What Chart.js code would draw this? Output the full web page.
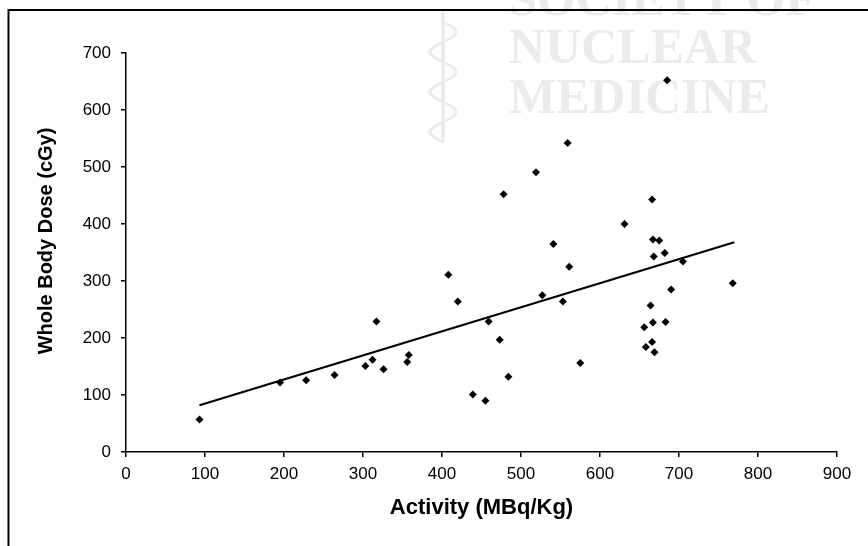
<!DOCTYPE html>
<html>
<head>
<meta charset="utf-8">
<script src="https://cdn.jsdelivr.net/npm/chart.js@4/dist/chart.umd.min.js"></script>
<style>
  html, body { margin: 0; padding: 0; background: #fff; }
  #wrap { width: 868px; height: 546px; position: relative; }
</style>
</head>
<body>
<div id="wrap"><canvas id="dose"></canvas></div>
<script>
// activity (MBq/Kg) vs whole body dose (cGy)
const activity = [
	93, 195, 228, 264, 303, 312, 317, 326, 356, 358,
	408, 420, 439, 455, 459, 473, 478, 484, 519, 527,
	541, 553, 559, 561, 575, 631, 656, 658, 664, 666,
	666, 667, 668, 667, 669, 675, 682, 683, 685, 690,
	705, 768
]
const dose = [
	57, 122, 126, 135, 151, 162, 229, 145, 158, 170,
	311, 264, 101, 90, 229, 197, 452, 132, 491, 275,
	365, 264, 542, 325, 156, 400, 219, 184, 257, 443,
	193, 227, 343, 373, 175, 371, 349, 228, 652, 285,
	334, 296
]
// regression line end points
const fitX = [93, 770]
const fitY = [82, 368]

const xTicks = [0, 100, 200, 300, 400, 500, 600, 700, 800, 900]
const yTicks = [0, 100, 200, 300, 400, 500, 600, 700]

const xTitle = "Activity (MBq/Kg)"
const yTitle = "Whole Body Dose (cGy)"
const watermark = ["SOCIETY OF", "NUCLEAR", "MEDICINE"]

const sans = "'Liberation Sans', Arial, sans-serif"

const points = activity.map((a, i) => ({ x: a, y: dose[i] }))
const fitLine = fitX.map((a, i) => ({ x: a, y: fitY[i] }))

// faint journal watermark behind the plot
const watermarkPlugin = {
	id: "watermark",
	beforeDraw(chart) {
		const ctx = chart.ctx
		ctx.save()
		ctx.fillStyle = "#ebebeb"
		ctx.strokeStyle = "#ebebeb"
		ctx.font = "bold 50px 'Liberation Serif', 'Times New Roman', serif"
		ctx.textBaseline = "alphabetic"
		ctx.fillText(watermark[0], 509, 15)
		ctx.fillText(watermark[1], 509, 63)
		ctx.fillText(watermark[2], 509, 113)
		// rod + snake
		ctx.lineWidth = 4
		ctx.beginPath()
		ctx.moveTo(443, 12)
		ctx.lineTo(443, 142)
		ctx.stroke()
		ctx.lineWidth = 3
		ctx.beginPath()
		for (let t = 0; t <= 120; t += 2) {
			const px = 443 + 13 * Math.sin(t / 40 * Math.PI * 2)
			const py = 22 + t
			if (t == 0) ctx.moveTo(px, py)
			else ctx.lineTo(px, py)
		}
		ctx.stroke()
		ctx.restore()
	},
	afterDraw(chart) {
		const ctx = chart.ctx
		const area = chart.chartArea
		ctx.save()
		// frame of the figure
		ctx.strokeStyle = "#000"
		ctx.lineWidth = 2
		ctx.beginPath()
		ctx.moveTo(8.5, 546)
		ctx.lineTo(8.5, 10)
		ctx.lineTo(868, 10)
		ctx.stroke()
		// axis titles
		ctx.fillStyle = "#000"
		ctx.textAlign = "center"
		ctx.textBaseline = "middle"
		ctx.font = "bold 22px " + sans
		ctx.fillText(xTitle, (area.left + area.right) / 2, 508)
		ctx.font = "bold 20px " + sans
		ctx.translate(46, 241)
		ctx.rotate(-Math.PI / 2)
		ctx.fillText(yTitle, 0, 0)
		ctx.restore()
	}
}

new Chart("dose", {
	type: "scatter",
	data: {
		datasets: [
			{
				data: points,
				pointStyle: "rectRot",
				pointRadius: 4,
				pointBackgroundColor: "#000",
				pointBorderColor: "#000",
				pointBorderWidth: 0,
				showLine: false,
			},
			{
				type: "line",
				data: fitLine,
				borderColor: "#000",
				borderWidth: 2.2,
				pointRadius: 0,
				fill: false,
			},
		],
	},
	options: {
		responsive: true,
		maintainAspectRatio: false,
		animation: false,
		layout: { padding: { left: 0, right: 31, top: 53, bottom: 0 } },
		plugins: {
			legend: { display: false },
			tooltip: { enabled: false },
		},
		scales: {
			x: {
				type: "linear",
				min: 0,
				max: 900,
				afterFit: (scale) => { scale.height = 94 },
				afterBuildTicks: (scale) => { scale.ticks = xTicks.map(v => ({ value: v })) },
				border: { display: true, color: "#000", width: 1.5 },
				grid: { drawOnChartArea: false, drawTicks: true, tickLength: 5, color: "#000", lineWidth: 1.5 },
				ticks: { color: "#000", font: { family: sans, size: 17 }, padding: 7, maxRotation: 0 },
			},
			y: {
				type: "linear",
				min: 0,
				max: 700,
				afterFit: (scale) => { scale.width = 126 },
				afterBuildTicks: (scale) => { scale.ticks = yTicks.map(v => ({ value: v })) },
				border: { display: true, color: "#000", width: 1.5 },
				grid: { drawOnChartArea: false, drawTicks: true, tickLength: 5, color: "#000", lineWidth: 1.5 },
				ticks: { color: "#000", font: { family: sans, size: 17 }, padding: 10 },
			},
		},
	},
	plugins: [watermarkPlugin],
});
</script>
</body>
</html>
